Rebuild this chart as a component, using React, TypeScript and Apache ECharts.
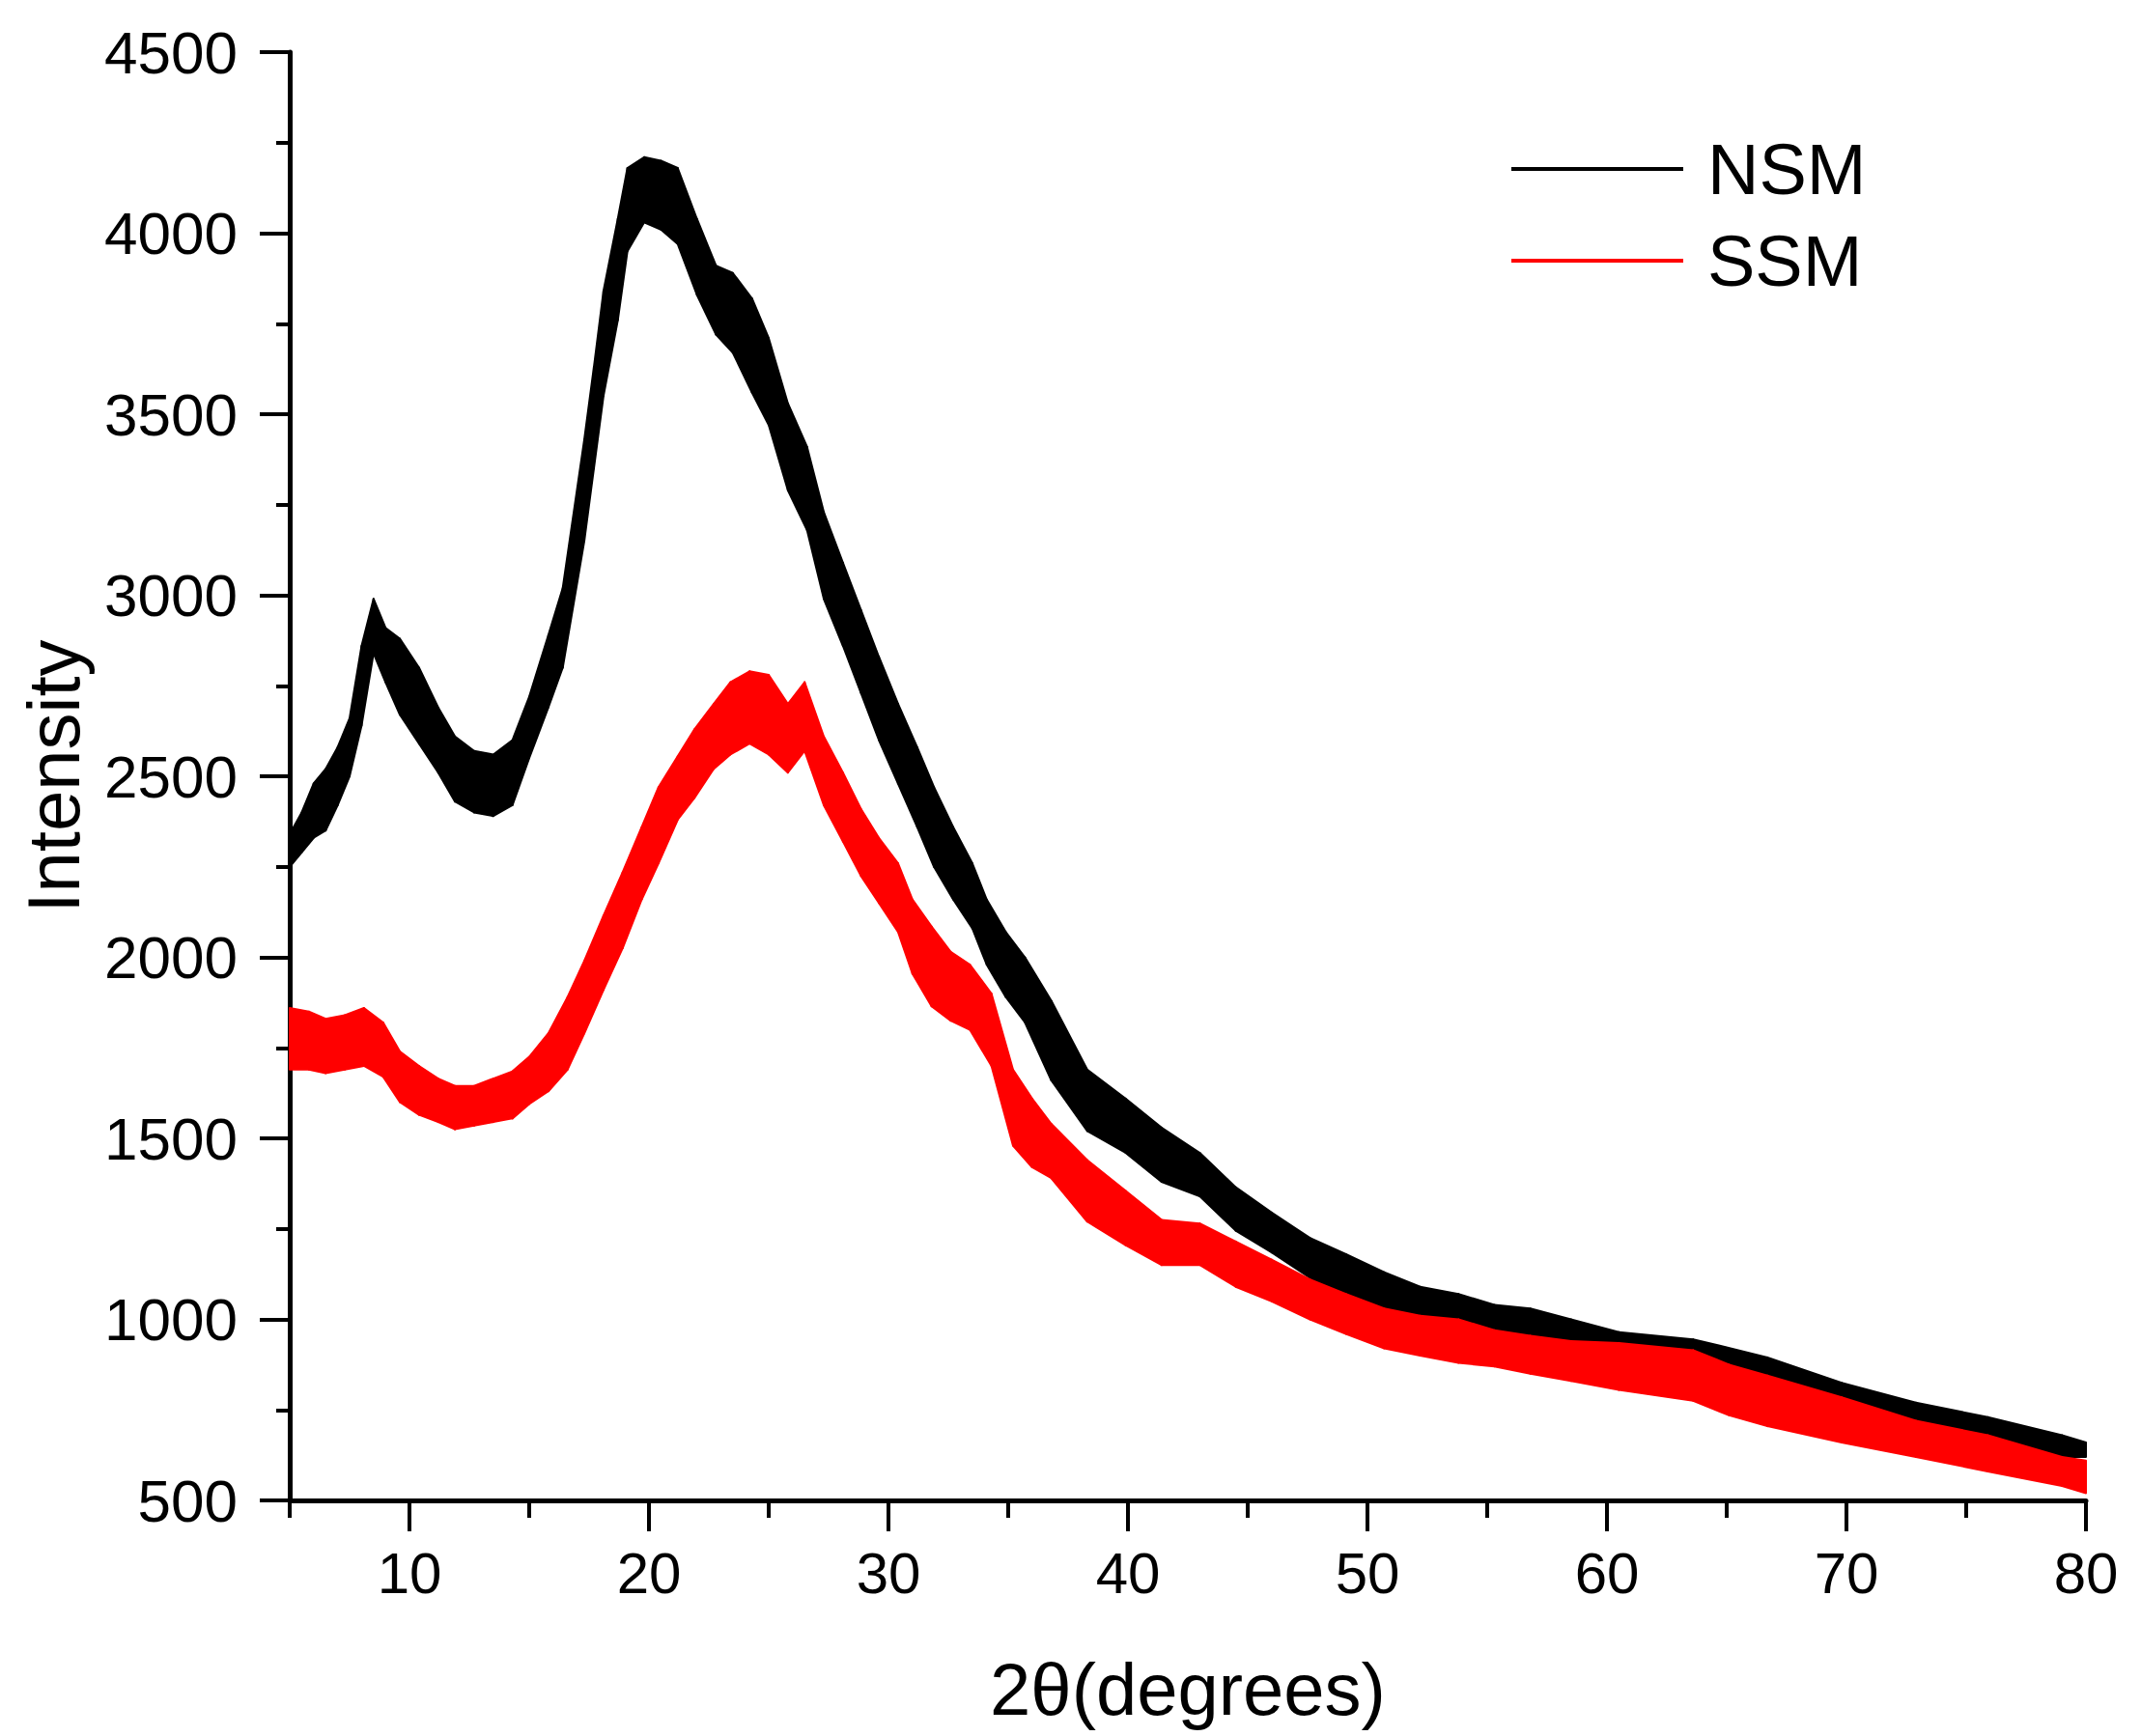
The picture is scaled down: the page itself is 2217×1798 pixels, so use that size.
import React, { useEffect, useRef } from "react";
import * as echarts from "echarts";

// 2θ positions (degrees) and the lower / upper edge of each noisy trace
const nsmX = [5.0, 5.5, 6.0, 6.5, 7.0, 7.5, 8.0, 8.5, 9.0, 9.6, 10.4, 11.2, 11.9, 12.7, 13.5, 14.3, 15.0, 15.8, 16.4, 17.3, 17.7, 18.1, 18.7, 19.1, 19.8, 20.5, 21.2, 22.0, 22.8, 23.5, 24.3, 25.0, 25.8, 26.6, 27.3, 28.1, 28.85, 29.6, 30.4, 31.2, 31.9, 32.7, 33.5, 34.1, 34.9, 35.7, 36.8, 38.3, 39.9, 41.4, 43.0, 44.5, 46.0, 47.6, 49.1, 50.7, 52.2, 53.8, 55.3, 56.8, 58.5, 60.5, 63.6, 66.7, 69.8, 72.9, 75.9, 79.0, 80.0];
const nsmLow = [2250, 2290, 2330, 2350, 2420, 2500, 2640, 2840, 2760, 2670, 2590, 2510, 2430, 2400, 2390, 2420, 2550, 2690, 2800, 3150, 3350, 3550, 3760, 3950, 4030, 4010, 3970, 3830, 3720, 3670, 3560, 3470, 3290, 3180, 2990, 2860, 2730, 2600, 2480, 2360, 2250, 2160, 2080, 1980, 1890, 1820, 1660, 1520, 1460, 1380, 1340, 1245, 1185, 1115, 1065, 1030, 1000, 980, 950, 940, 920, 895, 865, 815, 755, 700, 660, 620, 620];
const nsmHigh = [2340, 2400, 2480, 2520, 2580, 2660, 2860, 2990, 2910, 2880, 2800, 2690, 2610, 2570, 2560, 2600, 2720, 2890, 3020, 3430, 3630, 3840, 4040, 4180, 4210, 4200, 4180, 4040, 3910, 3890, 3820, 3710, 3530, 3410, 3230, 3090, 2960, 2830, 2700, 2580, 2470, 2360, 2260, 2160, 2070, 2000, 1880, 1690, 1610, 1530, 1460, 1365, 1295, 1225, 1180, 1130, 1090, 1070, 1040, 1030, 1000, 965, 945, 895, 825, 770, 730, 680, 660];

const ssmX = [5.0, 5.8, 6.5, 7.3, 8.1, 8.9, 9.6, 10.4, 11.2, 11.9, 12.7, 13.5, 14.3, 15.0, 15.8, 16.6, 17.3, 18.1, 18.9, 19.7, 20.4, 21.2, 21.9, 22.7, 23.4, 24.2, 25.0, 25.8, 26.5, 27.3, 28.1, 28.85, 29.6, 30.4, 31.0, 31.8, 32.6, 33.4, 34.3, 35.2, 36.0, 36.8, 38.3, 39.9, 41.4, 43.0, 44.5, 46.0, 47.6, 49.1, 50.7, 52.2, 53.8, 55.3, 56.8, 58.5, 60.5, 63.6, 65.1, 66.7, 69.8, 72.9, 75.9, 79.0, 80.0];
const ssmLow = [1690, 1690, 1680, 1690, 1700, 1670, 1600, 1565, 1545, 1525, 1535, 1545, 1555, 1595, 1630, 1690, 1790, 1910, 2025, 2160, 2260, 2380, 2440, 2520, 2560, 2590, 2560, 2510, 2570, 2420, 2320, 2225, 2150, 2070, 1955, 1865, 1825, 1800, 1700, 1480, 1420, 1390, 1270, 1205, 1150, 1150, 1090, 1050, 1000, 960, 920, 900, 880, 870, 850, 830, 805, 775, 735, 705, 660, 620, 580, 540, 520];
const ssmHigh = [1860, 1850, 1830, 1840, 1860, 1820, 1740, 1700, 1665, 1645, 1645, 1665, 1685, 1725, 1790, 1890, 1990, 2115, 2235, 2360, 2470, 2555, 2630, 2700, 2760, 2790, 2780, 2700, 2760, 2610, 2510, 2410, 2330, 2260, 2160, 2085, 2015, 1980, 1900, 1690, 1610, 1540, 1440, 1355, 1275, 1265, 1215, 1165, 1110, 1070, 1030, 1010, 1000, 970, 955, 940, 935, 915, 875, 845, 785, 720, 680, 620, 610];

const xMajorTicks = [10, 20, 30, 40, 50, 60, 70, 80];
const xMinorTicks = [5, 15, 25, 35, 45, 55, 65, 75];

const FONT = "'Liberation Sans', Arial, Helvetica, sans-serif";

// one data item per stretch between two readings: [x0, lo0, hi0, x1, lo1, hi1]
function segments(xs: number[], lo: number[], hi: number[]) {
  return xs.slice(0, -1).map((x, i) => [x, lo[i], hi[i], xs[i + 1], lo[i + 1], hi[i + 1]]);
}

function bandSeries(name: string, color: string, data: number[][], z: number) {
  return {
    name,
    type: "custom",
    xAxisIndex: 0,
    yAxisIndex: 0,
    silent: true,
    z,
    itemStyle: { color },
    encode: { x: [0, 3], y: [1, 2, 4, 5] },
    data,
    renderItem: (params: any, api: any) => {
      const a = api.coord([api.value(0), api.value(1)]);
      const b = api.coord([api.value(3), api.value(4)]);
      const c = api.coord([api.value(3), api.value(5)]);
      const d = api.coord([api.value(0), api.value(2)]);
      return {
        type: "polygon",
        shape: { points: [a, b, c, d] },
        style: { fill: color, stroke: color, lineWidth: 2, lineJoin: "round" },
      };
    },
  };
}

export default function App() {
  const ref = useRef<HTMLDivElement>(null);

  useEffect(() => {
    document.body.style.margin = "0";
    document.body.style.overflow = "hidden";
    if (!ref.current) return;
    const chart = echarts.init(ref.current, undefined, { renderer: "svg" });

    chart.setOption({
      animation: false,
      backgroundColor: "#ffffff",
      textStyle: { fontFamily: FONT, color: "#000" },
      grid: { left: 300, top: 54, width: 1860, height: 1500, containLabel: false },
      legend: {
        orient: "vertical",
        left: 1565,
        top: 138,
        padding: 0,
        itemGap: 21,
        itemWidth: 178,
        itemHeight: 4,
        icon: "rect",
        selectedMode: false,
        data: [
          { name: "NSM", itemStyle: { color: "#000000" } },
          { name: "SSM", itemStyle: { color: "#ff0000" } },
        ],
        textStyle: { fontFamily: FONT, fontSize: 74, lineHeight: 74, color: "#000", padding: [0, 0, 0, 20] },
      },
      xAxis: [
        {
          type: "value",
          min: 5,
          max: 80,
          position: "bottom",
          splitLine: { show: false },
          axisLine: { show: true, lineStyle: { color: "#000", width: 5 } },
          axisTick: { show: true, customValues: xMinorTicks, length: 18, lineStyle: { color: "#000", width: 4 } },
          axisLabel: { show: false },
        },
        {
          type: "value",
          min: 5,
          max: 80,
          position: "bottom",
          splitLine: { show: false },
          axisLine: { show: false },
          axisTick: { show: true, customValues: xMajorTicks, length: 32, lineStyle: { color: "#000", width: 4 } },
          axisLabel: { show: true, customValues: xMajorTicks, fontSize: 60, margin: 45, color: "#000", fontFamily: FONT },
          name: "2θ(degrees)",
          nameLocation: "middle",
          nameGap: 157,
          nameTextStyle: { fontSize: 76, color: "#000", fontFamily: FONT },
        },
      ],
      yAxis: {
        type: "value",
        min: 500,
        max: 4500,
        interval: 500,
        splitLine: { show: false },
        axisLine: { show: true, lineStyle: { color: "#000", width: 5 } },
        axisTick: { show: true, length: 31, lineStyle: { color: "#000", width: 4 } },
        minorTick: { show: true, splitNumber: 2, length: 14, lineStyle: { color: "#000", width: 4 } },
        minorSplitLine: { show: false },
        axisLabel: {
          fontSize: 62,
          margin: 54,
          color: "#000",
          fontFamily: FONT,
          formatter: (v: number) => String(v),
        },
        name: "Intensity",
        nameLocation: "middle",
        nameRotate: 90,
        nameGap: 207,
        nameTextStyle: { fontSize: 76, color: "#000", fontFamily: FONT },
      },
      series: [
        bandSeries("NSM", "#000000", segments(nsmX, nsmLow, nsmHigh), 2),
        bandSeries("SSM", "#ff0000", segments(ssmX, ssmLow, ssmHigh), 3),
      ],
    });

    return () => chart.dispose();
  }, []);

  return <div ref={ref} style={{ width: 2217, height: 1798 }} />;
}
